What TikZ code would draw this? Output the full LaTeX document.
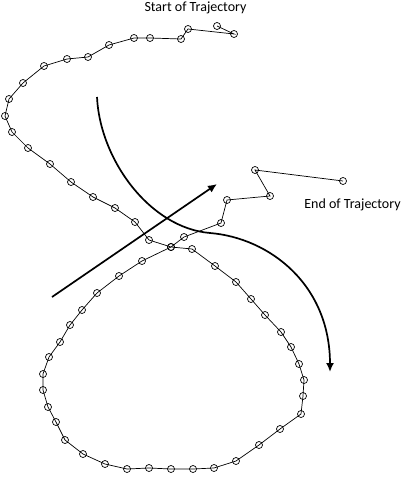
\documentclass[tikz,border=0pt]{standalone}
\usepackage{fontspec}
\setmainfont{Carlito}
\usetikzlibrary{arrows.meta}
\begin{document}
\begin{tikzpicture}[x=1pt,y=-1pt,
  pt/.style={circle,draw,inner sep=0pt,minimum size=7pt,line width=0.7pt},
  traj/.style={line width=0.7pt},
  bigarrow/.style={line width=1.7pt,-{Latex[length=9pt,width=8pt]}},
  lbl/.style={font=\fontsize{14}{16}\selectfont,anchor=base,inner sep=0pt}]
\useasboundingbox (0,0) rectangle (412,481);
\foreach \x/\y [count=\i] in {217/26,234/34,188/29,181/39,150/38,134/38,109/45,88/57,67/59,44/66,23/83,9/99,5/116,12/132,28/148,50/164,71/182,93/197,115/208,135/222,149/240,171/247,192/249,215/266,236/282,251/299,265/315,281/332,291/347,299/364,304/380,303/396,301/414,280/429,259/445,236/461,214/468,193/469,171/469,149/468,127/469,105/464,83/454,65/440,56/422,48/407,43/390,43/374,49/357,60/342,70/325,82/310,97/293,119/276,142/261,171/247,184/237,221/223,227/200,270/196,255/170,343/181}
  \node[pt] (p\i) at (\x,\y) {};
\draw[traj] (p1.center) \foreach \i in {2,...,62} { -- (p\i.center) };
\node[lbl] (start) at (195.5,12) {Start of Trajectory};
\node[lbl] (end) at (352.5,208) {End of Trajectory};
\coordinate (a1) at (52,297);
\coordinate (a2) at (217,184);
\draw[bigarrow] (a1) -- (a2);
\coordinate (c1) at (97,97);
\coordinate (c2) at (210,233);
\coordinate (c3) at (330,372);
\draw[bigarrow] (c1) .. controls (100,160) and (150,228) .. (c2)
  .. controls (270,238) and (330,285) .. (c3);
\end{tikzpicture}
\end{document}
